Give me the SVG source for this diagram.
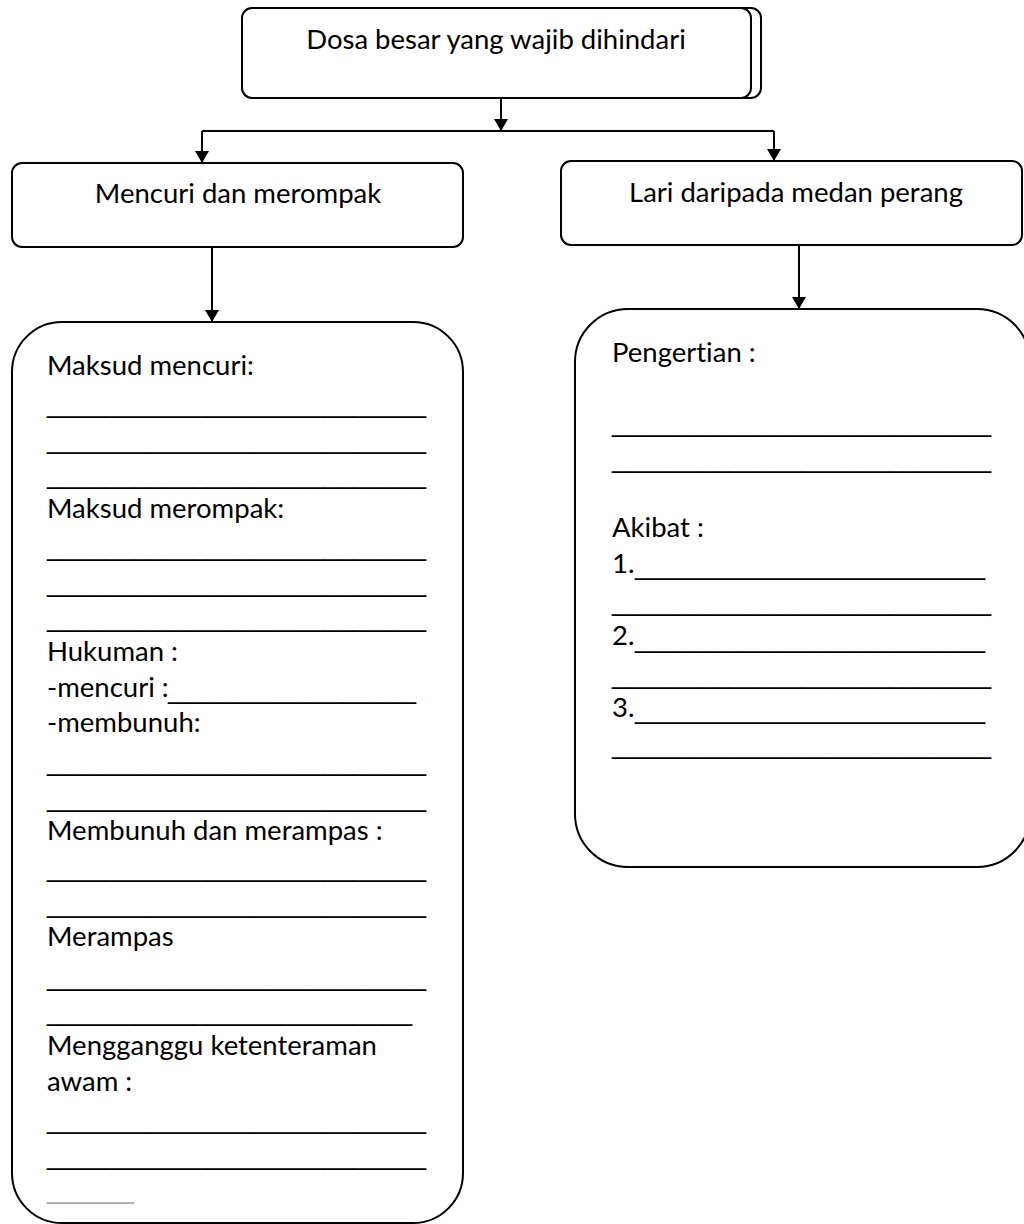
<svg xmlns="http://www.w3.org/2000/svg" width="1024" height="1224" viewBox="0 0 1024 1224">
<style>
.box{fill:#fff;stroke:#000;stroke-width:2}
.t{font-family:Lato,"Liberation Sans",sans-serif;font-size:27.5px;fill:#000;font-variant-ligatures:none}
.c{text-anchor:middle}
.u{font-family:"Liberation Sans",Arial,sans-serif;font-size:27px;fill:#000}
.g{fill:#aaa}
.con{fill:none;stroke:#000;stroke-width:2}
</style>
<defs>
<marker id="ah" markerUnits="userSpaceOnUse" markerWidth="16" markerHeight="16" refX="12" refY="7" orient="auto">
<path d="M0,0 L12,7 L0,14 z" fill="#000"/>
</marker>
</defs>
<rect width="1024" height="1224" fill="#fff"/>
<g id="connectors">
<path class="con" d="M501,98 V131" marker-end="url(#ah)"/>
<path class="con" d="M202,131 H774"/>
<path class="con" d="M202,131 V163" marker-end="url(#ah)"/>
<path class="con" d="M774,131 V161" marker-end="url(#ah)"/>
<path class="con" d="M212,247 V322" marker-end="url(#ah)"/>
<path class="con" d="M799,245 V309" marker-end="url(#ah)"/>
</g>
<g id="node-top">
<rect class="box" x="252" y="8" width="509" height="90" rx="10"/>
<rect class="box" x="242" y="8" width="509" height="90" rx="10"/>
<text class="t c" x="496" y="49">Dosa besar yang wajib dihindari</text>
</g>
<g id="node-mencuri">
<rect class="box" x="12" y="163" width="451" height="84" rx="10"/>
<text class="t c" x="238" y="203">Mencuri dan merompak</text>
</g>
<g id="node-lari">
<rect class="box" x="561" y="161" width="461" height="84" rx="10"/>
<text class="t c" x="796" y="202">Lari daripada medan perang</text>
</g>
<g id="node-left-detail">
<rect class="box" x="12" y="322" width="451" height="901" rx="50"/>
<text class="t" x="47" y="375">Maksud mencuri:</text>
<text class="u" x="47" y="411.5" textLength="379" lengthAdjust="spacingAndGlyphs">__________________________</text>
<text class="u" x="47" y="448" textLength="379" lengthAdjust="spacingAndGlyphs">__________________________</text>
<text class="u" x="47" y="483" textLength="379" lengthAdjust="spacingAndGlyphs">__________________________</text>
<text class="t" x="47" y="518">Maksud merompak:</text>
<text class="u" x="47" y="554.7" textLength="379" lengthAdjust="spacingAndGlyphs">__________________________</text>
<text class="u" x="47" y="590.7" textLength="379" lengthAdjust="spacingAndGlyphs">__________________________</text>
<text class="u" x="47" y="625.7" textLength="379" lengthAdjust="spacingAndGlyphs">__________________________</text>
<text class="t" x="47" y="661">Hukuman :</text>
<text class="t" x="47" y="697">-mencuri :</text>
<text class="u" x="168" y="698" textLength="248" lengthAdjust="spacingAndGlyphs">_________________</text>
<text class="t" x="47" y="732">-membunuh:</text>
<text class="u" x="47" y="769.7" textLength="379" lengthAdjust="spacingAndGlyphs">__________________________</text>
<text class="u" x="47" y="805.7" textLength="379" lengthAdjust="spacingAndGlyphs">__________________________</text>
<text class="t" x="47" y="840">Membunuh dan merampas :</text>
<text class="u" x="47" y="876.4" textLength="379" lengthAdjust="spacingAndGlyphs">__________________________</text>
<text class="u" x="47" y="912.4" textLength="379" lengthAdjust="spacingAndGlyphs">__________________________</text>
<text class="t" x="47" y="946">Merampas</text>
<text class="u" x="47" y="984.7" textLength="379" lengthAdjust="spacingAndGlyphs">__________________________</text>
<text class="u" x="47" y="1020.4" textLength="365" lengthAdjust="spacingAndGlyphs">_________________________</text>
<text class="t" x="47" y="1055">Mengganggu ketenteraman</text>
<text class="t" x="47" y="1091">awam :</text>
<text class="u" x="47" y="1128.1" textLength="379" lengthAdjust="spacingAndGlyphs">__________________________</text>
<text class="u" x="47" y="1164.1" textLength="379" lengthAdjust="spacingAndGlyphs">__________________________</text>
<text class="u g" x="47" y="1198.1" textLength="87" lengthAdjust="spacingAndGlyphs">______</text>
</g>
<g id="node-right-detail">
<rect class="box" x="575" y="309" width="455" height="558" rx="53"/>
<text class="t" x="612" y="362">Pengertian :</text>
<text class="u" x="612" y="431.4" textLength="379" lengthAdjust="spacingAndGlyphs">__________________________</text>
<text class="u" x="612" y="467.1" textLength="379" lengthAdjust="spacingAndGlyphs">__________________________</text>
<text class="t" x="612" y="537">Akibat :</text>
<text class="t" x="612" y="573">1.</text>
<text class="u" x="635" y="574.4" textLength="350" lengthAdjust="spacingAndGlyphs">________________________</text>
<text class="u" x="612" y="610.4" textLength="379" lengthAdjust="spacingAndGlyphs">__________________________</text>
<text class="t" x="612" y="645">2.</text>
<text class="u" x="635" y="647.1" textLength="350" lengthAdjust="spacingAndGlyphs">________________________</text>
<text class="u" x="612" y="683.1" textLength="379" lengthAdjust="spacingAndGlyphs">__________________________</text>
<text class="t" x="612" y="717">3.</text>
<text class="u" x="635" y="718.1" textLength="350" lengthAdjust="spacingAndGlyphs">________________________</text>
<text class="u" x="612" y="753.1" textLength="379" lengthAdjust="spacingAndGlyphs">__________________________</text>
</g>
</svg>
